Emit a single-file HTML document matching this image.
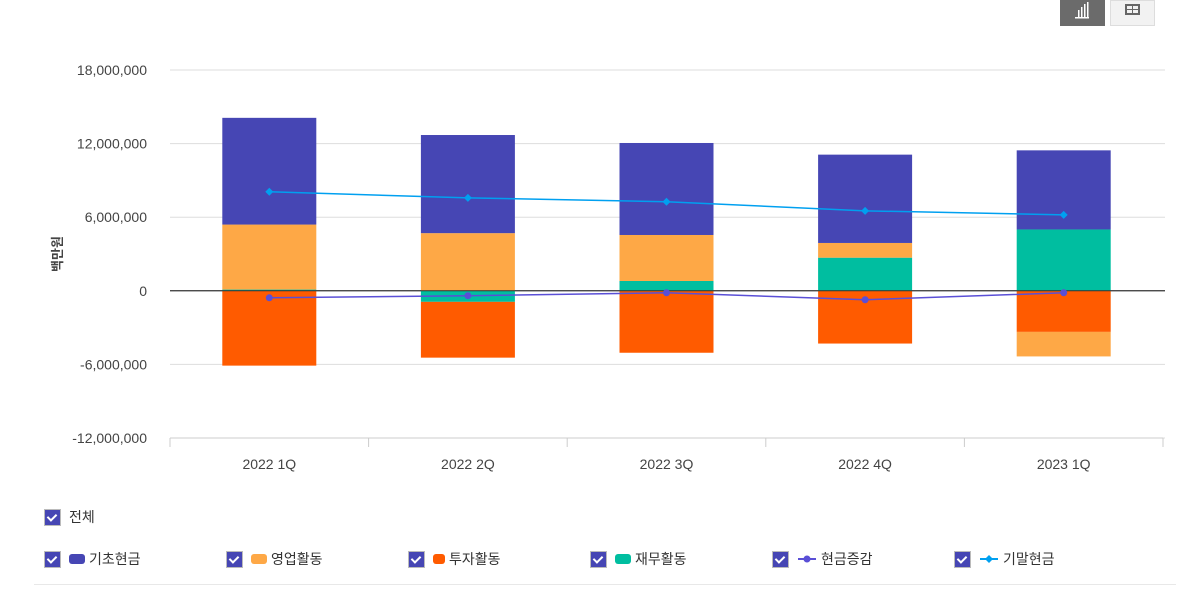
<!DOCTYPE html>
<html><head><meta charset="utf-8">
<style>
body{margin:0;width:1192px;height:597px;background:#fff;font-family:"Liberation Sans","Noto Sans CJK KR",sans-serif;position:relative;overflow:hidden}
.btn{position:absolute;top:0;height:26px;width:45px;box-sizing:border-box}
.leg{position:absolute;font-size:14px;color:#333;display:flex;align-items:center}
.cb{width:17px;height:17px;background:#4646b4;border:1px solid #bbb;box-sizing:border-box;position:relative;margin-right:8px}
.cb:after{content:"";position:absolute;left:4px;top:2px;width:4px;height:7px;border:solid #fff;border-width:0 2.5px 2.5px 0;transform:rotate(45deg)}
.sw{width:16px;height:10px;border-radius:3px;margin-right:4px}
</style></head><body>
<div class="btn" style="left:1060px;background:#6b6b6b">
<svg width="45" height="26"><rect x="15" y="17" width="14" height="1.5" fill="#fff"/><rect x="18" y="10" width="1.5" height="7" fill="#fff"/><rect x="21" y="7" width="1.5" height="10" fill="#fff"/><rect x="24" y="4" width="1.5" height="13" fill="#fff"/><rect x="27" y="2" width="1.5" height="15" fill="#fff"/></svg></div>
<div class="btn" style="left:1110px;background:#f2f2f2;border:1px solid #ddd">
<svg width="43" height="24"><rect x="14" y="3" width="15" height="11" fill="#666"/><rect x="16" y="5" width="5" height="3" fill="#f2f2f2"/><rect x="22" y="5" width="5" height="3" fill="#f2f2f2"/><rect x="16" y="9" width="5" height="3" fill="#f2f2f2"/><rect x="22" y="9" width="5" height="3" fill="#f2f2f2"/></svg></div>
<svg id="chart" width="1192" height="480" style="position:absolute;left:0;top:0"></svg>
<div class="leg" style="left:44px;top:507px"><div class="cb"></div>전체</div>
<div class="leg" style="left:44px;top:549px"><div class="cb"></div><div class="sw" style="background:#4646b4"></div>기초현금</div>
<div class="leg" style="left:226px;top:549px"><div class="cb"></div><div class="sw" style="background:#fea846"></div>영업활동</div>
<div class="leg" style="left:408px;top:549px"><div class="cb"></div><div class="sw" style="background:#ff5b00;width:12px"></div>투자활동</div>
<div class="leg" style="left:590px;top:549px"><div class="cb"></div><div class="sw" style="background:#00bea0"></div>재무활동</div>
<div class="leg" style="left:772px;top:549px"><div class="cb"></div><svg width="20" height="10" style="margin-right:4px"><line x1="1" y1="5" x2="19" y2="5" stroke="#5a4fd6" stroke-width="2"/><circle cx="10" cy="5" r="3.5" fill="#5a4fd6"/></svg>현금증감</div>
<div class="leg" style="left:954px;top:549px"><div class="cb"></div><svg width="20" height="10" style="margin-right:4px"><line x1="1" y1="5" x2="19" y2="5" stroke="#00a0f0" stroke-width="2"/><path d="M10 1 L14 5 L10 9 L6 5Z" fill="#00a0f0"/></svg>기말현금</div>
<div style="position:absolute;left:34px;top:584px;width:1142px;height:1px;background:#e8e8e8"></div>
<script>
const categories=["2022 1Q","2022 2Q","2022 3Q","2022 4Q","2023 1Q"];
const basicCash=[8.7e6,8.0e6,7.5e6,7.2e6,6.45e6];
const operating=[5.3e6,4.7e6,3.75e6,1.2e6,-2.0e6];
const investing=[-6.1e6,-4.55e6,-5.05e6,-4.3e6,-3.35e6];
const financing=[0.1e6,-0.9e6,0.8e6,2.7e6,5.0e6];
const cashChange=[-0.57e6,-0.4e6,-0.16e6,-0.73e6,-0.16e6];
const endingCash=[8.07e6,7.58e6,7.26e6,6.52e6,6.19e6];
const yTicks=[18e6,12e6,6e6,0,-6e6,-12e6];
const NS="http://www.w3.org/2000/svg",svg=document.getElementById('chart');
const x0=170,x1=1163,yMin=-12e6,yMax=18e6,py0=438,py1=70;
const Y=v=>py0-(v-yMin)/(yMax-yMin)*(py0-py1);
const band=(x1-x0)/categories.length;
const X=i=>x0+band*(i+0.5);
function mk(t,a){const e=document.createElementNS(NS,t);for(const k in a)e.setAttribute(k,a[k]);svg.appendChild(e);return e;}
yTicks.forEach(v=>{
 const l=mk('line',{x1:x0,x2:1165,y1:Y(v),y2:Y(v),stroke:v===0?'#333':'#ddd','stroke-width':1});
 
 const t=mk('text',{x:147,y:Y(v)+5,'text-anchor':'end','font-size':14,fill:'#444'});
 t.textContent=v.toLocaleString('en-US');
 
});
const ax=mk('line',{x1:x0,x2:x1,y1:py0,y2:py0,stroke:'#ccc'});

for(let i=0;i<=categories.length;i++){const tk=mk('line',{x1:x0+band*i,x2:x0+band*i,y1:py0,y2:py0+9,stroke:'#ccc'});
 }
categories.forEach((c,i)=>{const t=mk('text',{x:X(i),y:469,'text-anchor':'middle','font-size':14,fill:'#444'});t.textContent=c;
 });
const yt=mk('text',{x:62,y:254,'text-anchor':'middle','font-size':13,'font-weight':'bold',fill:'#444',transform:'rotate(-90 62 254)'});
yt.textContent='백만원';
const series=[[financing,'#00bea0','bar-financing'],[investing,'#ff5b00','bar-investing'],[operating,'#fea846','bar-operating'],[basicCash,'#4646b4','bar-basic-cash']];
const bw=94;
categories.forEach((c,i)=>{let pos=0,neg=0;
 series.forEach(([arr,col,name])=>{const v=arr[i];let a,b;
  if(v>=0){a=pos;b=pos+v;pos=b;}else{a=neg;b=neg+v;neg=b;}
  const r=mk('rect',{x:X(i)-bw/2,width:bw,y:Math.min(Y(a),Y(b)),height:Math.abs(Y(a)-Y(b)),fill:col});
  });
});
mk('line',{x1:x0,x2:1165,y1:Y(0),y2:Y(0),stroke:'#333'});
function line(arr,col,name,diamond){
 const p=mk('polyline',{points:arr.map((v,i)=>X(i)+','+Y(v)).join(' '),fill:'none',stroke:col,'stroke-width':1.5});
 
 arr.forEach((v,i)=>{let m;
  if(diamond)m=mk('path',{d:`M${X(i)} ${Y(v)-4}L${X(i)+4} ${Y(v)}L${X(i)} ${Y(v)+4}L${X(i)-4} ${Y(v)}Z`,fill:col});
  else m=mk('circle',{cx:X(i),cy:Y(v),r:3.5,fill:col});
  });
}
line(cashChange,'#5a4fd6','line-cash-change',false);
line(endingCash,'#00a0f0','line-ending-cash',true);
</script>
</body></html>
